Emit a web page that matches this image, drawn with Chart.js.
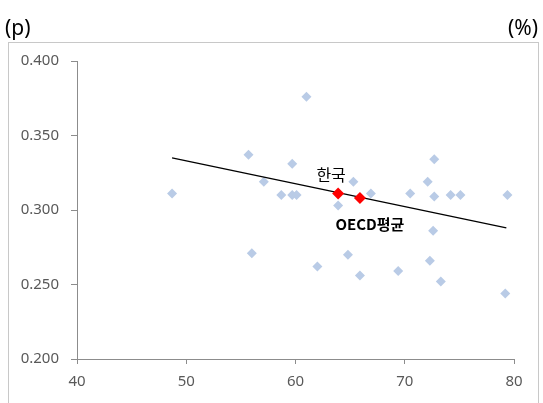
<!DOCTYPE html>
<html lang="ko">
<head>
    <meta charset="UTF-8">
    <script src="https://cdn.jsdelivr.net/npm/chart.js@4"></script>
    <title>Scatter - 한국 / OECD평균</title>
    <style>
        body { margin: 0; background: #fff; }
    </style>
</head>
<body>

    <canvas id="myChart" width="543" height="403"></canvas>

    <script>
        // OECD countries (light blue diamonds)
        const countryX = [48.7, 55.7, 56.0, 57.1, 58.7, 59.7, 59.7, 60.1, 61.0, 62.0,
                          63.9, 65.3, 64.8, 65.9, 66.9, 69.4, 70.5, 72.1, 72.7, 72.7,
                          72.6, 72.3, 73.3, 74.2, 75.1, 79.2, 79.4];
        const countryY = [0.311, 0.337, 0.271, 0.319, 0.310, 0.331, 0.310, 0.310, 0.376, 0.262,
                          0.303, 0.319, 0.270, 0.256, 0.311, 0.259, 0.311, 0.319, 0.334, 0.309,
                          0.286, 0.266, 0.252, 0.310, 0.310, 0.244, 0.310];

        const koreaPoint = [63.9, 0.311];
        const oecdPoint = [65.9, 0.308];

        // trend line end points
        const trendX = [48.7, 79.3];
        const trendY = [0.335, 0.288];

        const xTicks = [40, 50, 60, 70, 80];
        const yTicks = [0.200, 0.250, 0.300, 0.350, 0.400];

        const toPoints = (xs, ys) => xs.map((x, i) => ({ x: x, y: ys[i] }));

        const labels = [
            { text: '한국', at: koreaPoint, dx: -7, dy: -19, font: '16px "Noto Sans CJK KR"' },
            { text: 'OECD평균', at: oecdPoint, dx: 10, dy: 26, font: 'bold 15px "Noto Sans CJK KR"' }
        ];

        const decorations = {
            id: 'decorations',
            beforeDraw(chart) {
                const c = chart.ctx;
                c.save();
                c.strokeStyle = '#c8c8c8';
                c.lineWidth = 1;
                c.strokeRect(8.5, 42.5, 530, 380);
                c.fillStyle = '#000';
                c.font = '21px "Noto Sans", sans-serif';
                c.textBaseline = 'middle';
                c.textAlign = 'left';
                c.fillText('(p)', 5, 29);
                c.textAlign = 'right';
                c.fillText('(%)', 538, 29);
                c.restore();
            },
            afterDatasetsDraw(chart) {
                const c = chart.ctx;
                const xs = chart.scales.x, ys = chart.scales.y;
                c.save();
                c.fillStyle = '#000';
                c.textAlign = 'center';
                c.textBaseline = 'middle';
                labels.forEach(l => {
                    c.font = l.font;
                    c.fillText(l.text, xs.getPixelForValue(l.at[0]) + l.dx, ys.getPixelForValue(l.at[1]) + l.dy);
                });
                c.restore();
            }
        };

        const axisColor = '#8c8c8c';
        const tickFont = { family: '"Noto Sans", sans-serif', size: 15 };

        let ctx = document.getElementById('myChart').getContext('2d');

        new Chart(ctx, {
            type: 'scatter',
            data: {
                datasets: [{
                    label: 'countries',
                    data: toPoints(countryX, countryY),
                    pointStyle: 'rectRot',
                    radius: 5,
                    backgroundColor: '#b9cbe6',
                    borderWidth: 0,
                    order: 3
                }, {
                    label: 'trend',
                    data: toPoints(trendX, trendY),
                    showLine: true,
                    borderColor: '#000',
                    borderWidth: 1.3,
                    pointRadius: 0,
                    order: 2
                }, {
                    label: '한국',
                    data: [{ x: koreaPoint[0], y: koreaPoint[1] }],
                    pointStyle: 'rectRot',
                    radius: 6,
                    backgroundColor: '#ff0000',
                    borderWidth: 0,
                    order: 1
                }, {
                    label: 'OECD평균',
                    data: [{ x: oecdPoint[0], y: oecdPoint[1] }],
                    pointStyle: 'rectRot',
                    radius: 6,
                    backgroundColor: '#ff0000',
                    borderWidth: 0,
                    order: 1
                }]
            },
            options: {
                responsive: false,
                animation: false,
                events: [],
                layout: {
                    padding: { left: 10, right: 29, top: 61, bottom: 8 }
                },
                plugins: {
                    legend: { display: false },
                    tooltip: { enabled: false }
                },
                scales: {
                    x: {
                        type: 'linear',
                        min: 40,
                        max: 80,
                        afterBuildTicks: s => { s.ticks = xTicks.map(v => ({ value: v })); },
                        afterFit: s => { s.height = 36; },
                        border: { color: axisColor, width: 1 },
                        grid: { drawOnChartArea: false, drawTicks: true, tickLength: 5, color: axisColor },
                        ticks: { color: '#595959', font: tickFont, padding: 9, maxRotation: 0 }
                    },
                    y: {
                        type: 'linear',
                        min: 0.2,
                        max: 0.4,
                        afterBuildTicks: s => { s.ticks = yTicks.map(v => ({ value: v })); },
                        afterFit: s => { s.width = 67; },
                        border: { color: axisColor, width: 1 },
                        grid: { drawOnChartArea: false, drawTicks: true, tickLength: 6, color: axisColor },
                        ticks: { color: '#595959', font: tickFont, padding: 12, callback: v => v.toFixed(3) }
                    }
                }
            },
            plugins: [decorations]
        });
    </script>

</body>
</html>
